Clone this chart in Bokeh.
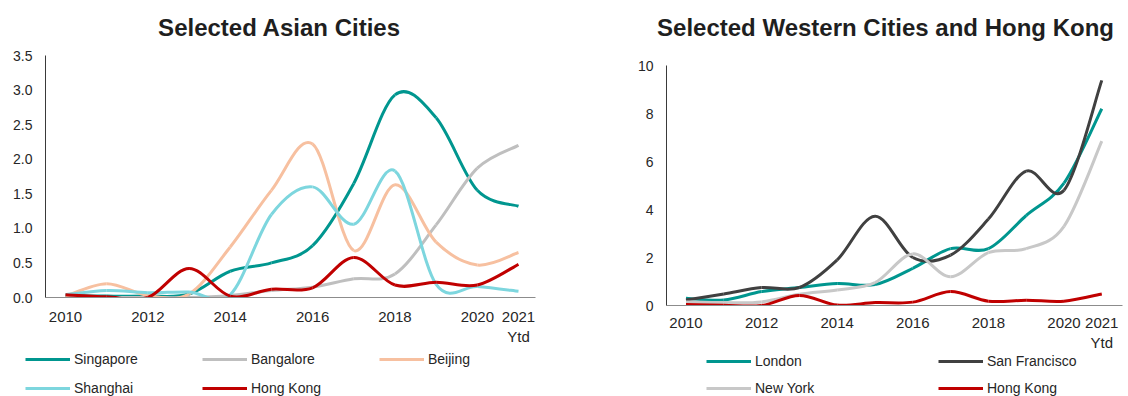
from bokeh.plotting import figure
from bokeh.layouts import row, column
from bokeh.models import Range1d, FixedTicker, Legend, LegendItem, Label, PrintfTickFormatter
from bokeh.embed import file_html
from bokeh.resources import INLINE

# ---------------- data ----------------
years = [2010, 2011, 2012, 2013, 2014, 2015, 2016, 2017, 2018, 2019, 2020, 2021]
x_ticks = [2010, 2012, 2014, 2016, 2018, 2020, 2021]
x_tick_labels = ["2010", "2012", "2014", "2016", "2018", "2020", "2021\nYtd"]

left_title = "Selected Asian Cities"
right_title = "Selected Western Cities and Hong Kong"

singapore = [0.03, 0.02, 0.02, 0.05, 0.38, 0.50, 0.75, 1.65, 2.93, 2.60, 1.55, 1.32]
bangalore = [0.00, 0.00, 0.00, 0.00, 0.03, 0.10, 0.15, 0.27, 0.34, 1.05, 1.87, 2.20]
beijing   = [0.02, 0.20, 0.03, 0.05, 0.73, 1.55, 2.22, 0.68, 1.63, 0.80, 0.47, 0.65]
shanghai  = [0.04, 0.10, 0.07, 0.08, 0.04, 1.20, 1.60, 1.06, 1.83, 0.19, 0.16, 0.09]
hong_kong = [0.04, 0.01, 0.00, 0.42, 0.02, 0.12, 0.14, 0.58, 0.18, 0.22, 0.18, 0.48]

london        = [0.30, 0.23, 0.58, 0.75, 0.92, 0.87, 1.55, 2.37, 2.37, 3.75, 5.10, 8.20]
san_francisco = [0.23, 0.48, 0.75, 0.75, 1.90, 3.72, 2.00, 2.10, 3.60, 5.60, 4.80, 9.38]
new_york      = [0.15, 0.12, 0.15, 0.47, 0.65, 0.95, 2.15, 1.20, 2.20, 2.37, 3.30, 6.85]

left_series = [("Singapore", singapore, "#00968f"),
               ("Bangalore", bangalore, "#bfbfbf"),
               ("Beijing", beijing, "#f7c0a0"),
               ("Shanghai", shanghai, "#7dd6de"),
               ("Hong Kong", hong_kong, "#c00000")]
right_series = [("London", london, "#00968f"),
                ("San Francisco", san_francisco, "#404040"),
                ("New York", new_york, "#c8c8c8"),
                ("Hong Kong", hong_kong, "#c00000")]

FONT = "Liberation Sans"
TITLE_H = 45


def smooth(xs, ys):
    """Bezier control points for a smoothed line through the data points."""
    n = len(xs)
    d = dict(x0=[], y0=[], x1=[], y1=[], cx0=[], cy0=[], cx1=[], cy1=[])
    for i in range(n - 1):
        ip = max(i - 1, 0)
        inn = min(i + 2, n - 1)
        d["x0"].append(xs[i]); d["y0"].append(ys[i])
        d["x1"].append(xs[i + 1]); d["y1"].append(ys[i + 1])
        d["cx0"].append(xs[i] + (xs[i + 1] - xs[ip]) / 6.0)
        d["cy0"].append(ys[i] + (ys[i + 1] - ys[ip]) / 6.0)
        d["cx1"].append(xs[i + 1] - (xs[inn] - xs[i]) / 6.0)
        d["cy1"].append(ys[i + 1] - (ys[inn] - ys[i]) / 6.0)
    return d


def strip(width, height):
    s = figure(width=width, height=height, output_backend="svg", toolbar_location=None,
               x_axis_type=None, y_axis_type=None,
               x_range=Range1d(0, width), y_range=Range1d(0, height),
               min_border_left=0, min_border_right=0, min_border_top=0, min_border_bottom=0)
    s.frame_align = False
    s.outline_line_color = None
    s.xgrid.visible = False
    s.ygrid.visible = False
    return s


def make_panel(title, series, width, height, mb_left, mb_right, mb_top, mb_bottom,
               xr, yr, yticks, yfmt, title_x, x_standoff,
               leg_height, leg_loc, label_width, ncols, row_gap):
    # title strip
    ts = strip(width, TITLE_H)
    ts.add_layout(Label(x=title_x, y=18, text=title, text_align="center",
                        text_baseline="alphabetic", text_font=FONT, text_font_size="24px",
                        text_font_style="bold", text_color="#1f1f1f"))

    p = figure(width=width, height=height, x_range=Range1d(*xr), y_range=Range1d(*yr),
               output_backend="svg", toolbar_location=None,
               min_border_left=mb_left, min_border_right=mb_right,
               min_border_top=mb_top, min_border_bottom=mb_bottom)
    p.frame_align = False
    p.outline_line_color = None
    p.xgrid.visible = False
    p.ygrid.visible = False
    p.background_fill_color = "white"
    p.border_fill_color = "white"

    p.xaxis.ticker = FixedTicker(ticks=x_ticks)
    p.xaxis.major_label_overrides = {t: lab for t, lab in zip(x_ticks, x_tick_labels)}
    p.yaxis.ticker = FixedTicker(ticks=yticks)
    p.yaxis.formatter = PrintfTickFormatter(format=yfmt)
    for ax in (p.xaxis[0], p.yaxis[0]):
        ax.major_tick_in = 0
        ax.major_tick_out = 0
        ax.minor_tick_in = 0
        ax.minor_tick_out = 0
        ax.major_label_text_font = FONT
        ax.major_label_text_color = "#262626"
    p.xaxis.major_label_text_font_size = "15px"
    p.yaxis.major_label_text_font_size = "14px"
    p.xaxis.major_label_standoff = x_standoff
    p.yaxis.major_label_standoff = 13
    p.xaxis.axis_line_color = "#8c8c8c"
    p.yaxis.axis_line_color = "#3a3a3a"

    for name, vals, color in series:
        p.bezier(source=smooth(years, vals), x0="x0", y0="y0", x1="x1", y1="y1",
                 cx0="cx0", cy0="cy0", cx1="cx1", cy1="cy1",
                 line_color=color, line_width=3)

    # legend strip below the chart (its lines lie outside the strip's view)
    lg = strip(width, leg_height)
    items = []
    for name, vals, color in series:
        r = lg.line(x=years, y=vals, line_color=color, line_width=3)
        items.append(LegendItem(label=name, renderers=[r]))
    legend = Legend(items=items, location=leg_loc, orientation="horizontal", ncols=ncols,
                    glyph_width=45, glyph_height=14, label_standoff=4,
                    label_width=label_width, label_height=14, spacing=row_gap,
                    padding=0, margin=0, border_line_color=None,
                    background_fill_alpha=0,
                    label_text_font=FONT, label_text_font_size="14px",
                    label_text_color="#262626")
    lg.add_layout(legend)
    return column(ts, p, lg, spacing=0)


left = make_panel(left_title, left_series, 568, 305, 45, 33, 10, 53,
                  (2009.514, 2021.413), (0, 3.5),
                  [0, 0.5, 1.0, 1.5, 2.0, 2.5, 3.0, 3.5], "%.1f",
                  279, 10, 46, (25, 0), 115, 3, 13)
right = make_panel(right_title, right_series, 560, 308, 98, 6, 20, 48,
                   (2009.484, 2021.548), (0, 10),
                   [0, 2, 4, 6, 8, 10], "%d",
                   317, 8, 43, (138, 0), 172, 2, 11)

layout = row(left, right, spacing=0)
open("out.html", "w").write(file_html(layout, INLINE))
